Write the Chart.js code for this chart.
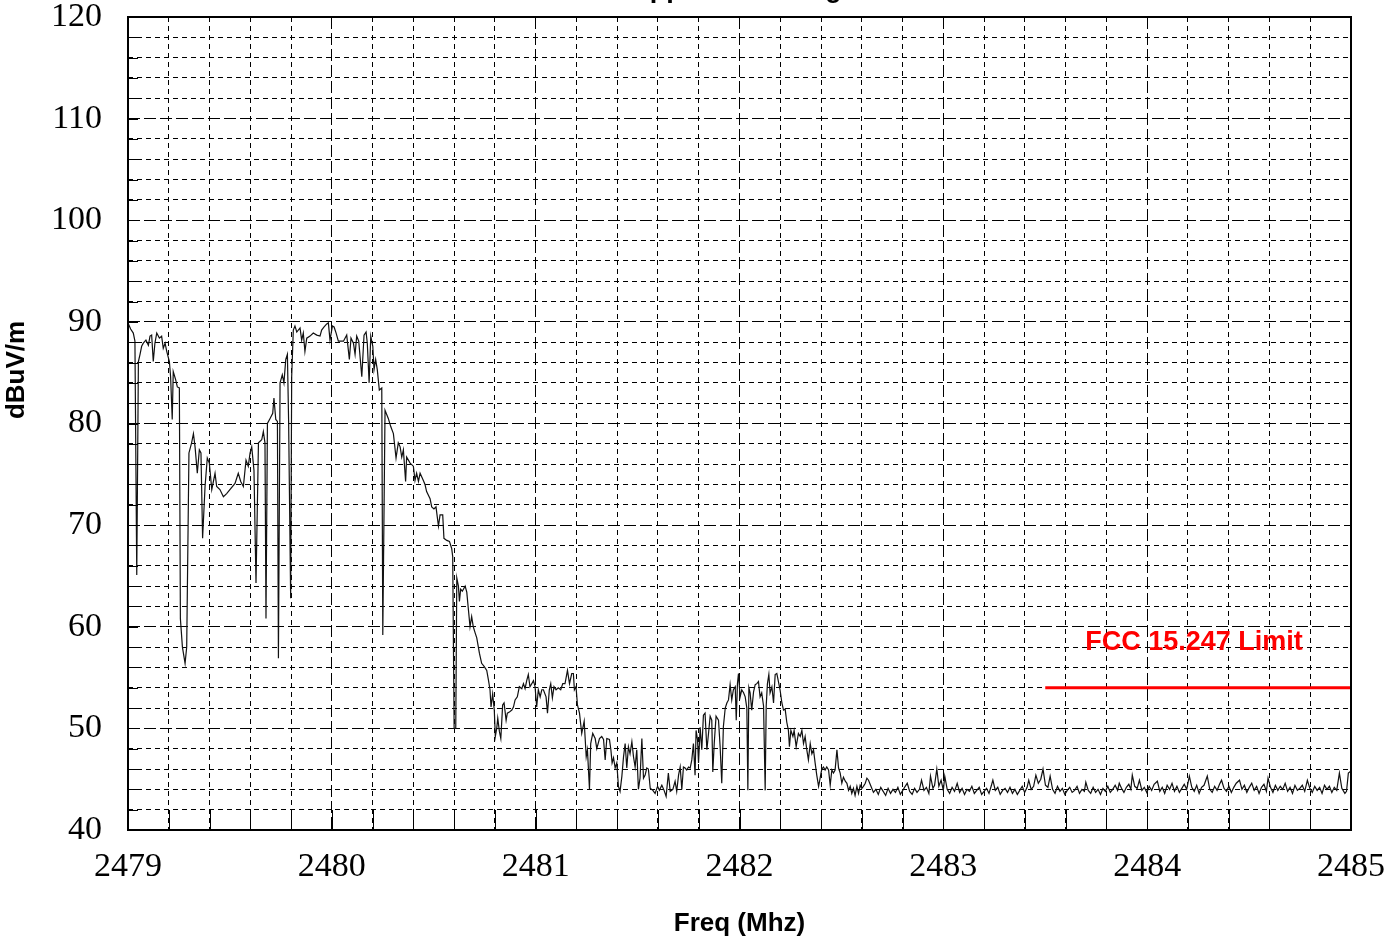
<!DOCTYPE html>
<html>
<head>
<meta charset="utf-8">
<script src="https://cdn.jsdelivr.net/npm/chart.js@4.4.1/dist/chart.umd.min.js"></script>
<style>
  html, body { margin: 0; padding: 0; background: #fff; }
  #wrap { width: 1388px; height: 946px; }
</style>
</head>
<body>
<div id="wrap"><canvas id="chart" width="1388" height="946"></canvas></div>
<script>
// labels
const chartTitle = 'Upper Band Edge';
const xAxisTitle = 'Freq (Mhz)';
const yAxisTitle = 'dBuV/m';
const limitLabel = 'FCC 15.247 Limit';

// axis ranges (MHz / dBuV/m)
const freqMin = 2479, freqMax = 2485, freqStep = 0.2;
const levelMin = 40, levelMax = 120, levelStep = 2;

const traceFreq = [
  2479.000, 2479.013, 2479.026, 2479.034, 2479.043, 2479.051, 2479.059, 2479.067, 2479.075, 2479.088,
  2479.100, 2479.108, 2479.116, 2479.124, 2479.132, 2479.141, 2479.154, 2479.165, 2479.173, 2479.182,
  2479.190, 2479.203, 2479.209, 2479.217, 2479.222, 2479.234, 2479.242, 2479.252, 2479.257, 2479.267,
  2479.280, 2479.288, 2479.299, 2479.312, 2479.321, 2479.329, 2479.340, 2479.350, 2479.358, 2479.366,
  2479.378, 2479.389, 2479.399, 2479.411, 2479.427, 2479.435, 2479.451, 2479.468, 2479.484, 2479.500,
  2479.525, 2479.541, 2479.553, 2479.566, 2479.579, 2479.590, 2479.599, 2479.607, 2479.618, 2479.628,
  2479.640, 2479.656, 2479.664, 2479.672, 2479.677, 2479.684, 2479.697, 2479.710, 2479.716, 2479.725,
  2479.733, 2479.738, 2479.746, 2479.757, 2479.765, 2479.774, 2479.782, 2479.788, 2479.798, 2479.803,
  2479.811, 2479.819, 2479.828, 2479.844, 2479.852, 2479.860, 2479.868, 2479.877, 2479.893, 2479.909,
  2479.926, 2479.942, 2479.950, 2479.962, 2479.975, 2479.983, 2479.991, 2480.003, 2480.011, 2480.021,
  2480.032, 2480.048, 2480.057, 2480.073, 2480.086, 2480.094, 2480.106, 2480.114, 2480.122, 2480.132,
  2480.147, 2480.158, 2480.168, 2480.174, 2480.183, 2480.191, 2480.201, 2480.207, 2480.215, 2480.223,
  2480.233, 2480.245, 2480.250, 2480.261, 2480.277, 2480.289, 2480.302, 2480.315, 2480.326, 2480.335,
  2480.343, 2480.351, 2480.362, 2480.367, 2480.384, 2480.400, 2480.408, 2480.416, 2480.425, 2480.433,
  2480.449, 2480.457, 2480.465, 2480.482, 2480.490, 2480.501, 2480.511, 2480.523, 2480.531, 2480.544,
  2480.550, 2480.564, 2480.577, 2480.588, 2480.593, 2480.600, 2480.608, 2480.613, 2480.621, 2480.626,
  2480.632, 2480.640, 2480.654, 2480.662, 2480.670, 2480.678, 2480.686, 2480.694, 2480.703, 2480.711,
  2480.724, 2480.735, 2480.747, 2480.760, 2480.768, 2480.776, 2480.781, 2480.789, 2480.797, 2480.802,
  2480.809, 2480.814, 2480.822, 2480.829, 2480.838, 2480.845, 2480.855, 2480.861, 2480.871, 2480.883,
  2480.891, 2480.899, 2480.910, 2480.920, 2480.932, 2480.940, 2480.948, 2480.956, 2480.964, 2480.972,
  2480.981, 2480.989, 2480.997, 2481.005, 2481.013, 2481.022, 2481.030, 2481.038, 2481.051, 2481.058,
  2481.067, 2481.074, 2481.082, 2481.090, 2481.100, 2481.111, 2481.123, 2481.133, 2481.144, 2481.156,
  2481.166, 2481.177, 2481.185, 2481.190, 2481.198, 2481.205, 2481.215, 2481.226, 2481.238, 2481.248,
  2481.254, 2481.264, 2481.270, 2481.280, 2481.292, 2481.300, 2481.313, 2481.324, 2481.333, 2481.341,
  2481.349, 2481.362, 2481.369, 2481.375, 2481.382, 2481.390, 2481.398, 2481.406, 2481.414, 2481.423,
  2481.431, 2481.439, 2481.447, 2481.455, 2481.463, 2481.472, 2481.480, 2481.488, 2481.496, 2481.504,
  2481.512, 2481.521, 2481.529, 2481.537, 2481.545, 2481.553, 2481.562, 2481.575, 2481.586, 2481.598,
  2481.607, 2481.619, 2481.630, 2481.640, 2481.651, 2481.660, 2481.673, 2481.684, 2481.692, 2481.701,
  2481.709, 2481.717, 2481.725, 2481.733, 2481.741, 2481.750, 2481.758, 2481.766, 2481.774, 2481.782,
  2481.787, 2481.794, 2481.799, 2481.807, 2481.815, 2481.823, 2481.831, 2481.840, 2481.848, 2481.856,
  2481.864, 2481.869, 2481.876, 2481.885, 2481.897, 2481.905, 2481.913, 2481.921, 2481.930, 2481.938,
  2481.946, 2481.954, 2481.962, 2481.970, 2481.979, 2481.984, 2481.990, 2481.995, 2482.003, 2482.011,
  2482.020, 2482.028, 2482.036, 2482.041, 2482.046, 2482.052, 2482.060, 2482.069, 2482.077, 2482.085,
  2482.093, 2482.101, 2482.109, 2482.118, 2482.126, 2482.131, 2482.137, 2482.144, 2482.150, 2482.159,
  2482.167, 2482.175, 2482.183, 2482.191, 2482.199, 2482.208, 2482.216, 2482.224, 2482.232, 2482.240,
  2482.245, 2482.252, 2482.262, 2482.268, 2482.278, 2482.289, 2482.298, 2482.306, 2482.314, 2482.322,
  2482.330, 2482.338, 2482.347, 2482.355, 2482.363, 2482.371, 2482.379, 2482.388, 2482.392, 2482.399,
  2482.404, 2482.412, 2482.420, 2482.428, 2482.437, 2482.445, 2482.453, 2482.461, 2482.469, 2482.478,
  2482.486, 2482.494, 2482.502, 2482.510, 2482.519, 2482.527, 2482.535, 2482.543, 2482.551, 2482.559,
  2482.567, 2482.576, 2482.584, 2482.592, 2482.600, 2482.608, 2482.617, 2482.625, 2482.633,
  2482.645, 2482.657, 2482.669, 2482.681, 2482.693, 2482.705, 2482.717, 2482.729, 2482.741, 2482.753,
  2482.765, 2482.777, 2482.789, 2482.801, 2482.813, 2482.823, 2482.835, 2482.847, 2482.859, 2482.871,
  2482.883, 2482.893, 2482.905, 2482.917, 2482.929, 2482.937, 2482.949, 2482.957, 2482.968, 2482.978,
  2482.989, 2483.000, 2483.007, 2483.019, 2483.031, 2483.043, 2483.055, 2483.068, 2483.080, 2483.092,
  2483.104, 2483.116, 2483.128, 2483.140, 2483.152, 2483.164, 2483.176, 2483.188, 2483.200, 2483.212,
  2483.224, 2483.236, 2483.243, 2483.255, 2483.267, 2483.279, 2483.291, 2483.303, 2483.315, 2483.327,
  2483.339, 2483.351, 2483.363, 2483.375, 2483.387, 2483.399, 2483.411, 2483.419, 2483.431, 2483.443,
  2483.454, 2483.466, 2483.478, 2483.489, 2483.501, 2483.513, 2483.524, 2483.536, 2483.548, 2483.560,
  2483.572, 2483.584, 2483.596, 2483.608, 2483.620, 2483.632, 2483.644, 2483.656, 2483.668, 2483.680,
  2483.692, 2483.699, 2483.711, 2483.723, 2483.735, 2483.747, 2483.759, 2483.771, 2483.783, 2483.795,
  2483.807, 2483.819, 2483.831, 2483.843, 2483.855, 2483.863, 2483.874, 2483.886, 2483.898, 2483.910,
  2483.920, 2483.927, 2483.939, 2483.951, 2483.962, 2483.974, 2483.986, 2483.998, 2484.010, 2484.022,
  2484.034, 2484.050, 2484.062, 2484.074, 2484.086, 2484.098, 2484.110, 2484.122, 2484.134, 2484.146,
  2484.158, 2484.170, 2484.182, 2484.194, 2484.207, 2484.219, 2484.231, 2484.243, 2484.255, 2484.267,
  2484.279, 2484.295, 2484.307, 2484.319, 2484.331, 2484.343, 2484.355, 2484.365, 2484.377, 2484.389,
  2484.401, 2484.413, 2484.425, 2484.437, 2484.453, 2484.465, 2484.477, 2484.489, 2484.501, 2484.513,
  2484.525, 2484.537, 2484.549, 2484.561, 2484.573, 2484.585, 2484.593, 2484.605, 2484.617, 2484.629,
  2484.641, 2484.653, 2484.665, 2484.677, 2484.689, 2484.701, 2484.713, 2484.725, 2484.737, 2484.749,
  2484.761, 2484.773, 2484.786, 2484.798, 2484.810, 2484.822, 2484.834, 2484.846, 2484.858, 2484.870,
  2484.882, 2484.894, 2484.906, 2484.918, 2484.930, 2484.943, 2484.955, 2484.970, 2484.978, 2484.987, 2485.000
];
const traceLevel = [
  89.9, 89.3, 88.9, 88.1, 65.1, 86.1, 86.8, 87.6, 87.9, 88.2,
  87.7, 88.6, 88.7, 86.1, 87.9, 88.9, 88.4, 88.6, 87.4, 87.9,
  87.1, 86.1, 84.6, 80.4, 85.1, 84.3, 83.6, 83.5, 60.8, 58.0,
  56.4, 58.0, 77.1, 78.1, 79.0, 77.7, 75.1, 77.4, 77.1, 68.7,
  73.8, 76.6, 76.1, 73.5, 75.1, 73.8, 73.5, 72.8, 73.1, 73.5,
  74.1, 75.1, 74.3, 73.8, 76.4, 75.8, 77.1, 77.7, 75.4, 64.3,
  78.1, 78.4, 79.2, 78.1, 60.8, 80.0, 80.5, 81.0, 82.5, 80.4,
  80.2, 56.9, 84.0, 84.8, 84.0, 86.3, 86.8, 80.2, 62.8, 84.6,
  89.2, 89.6, 89.0, 89.4, 88.2, 88.9, 87.1, 88.4, 88.6, 88.9,
  88.7, 88.6, 89.2, 89.5, 89.8, 89.9, 88.2, 89.6, 89.5, 88.9,
  88.1, 88.1, 88.1, 88.7, 86.3, 88.4, 87.9, 86.8, 88.6, 88.1,
  84.6, 88.7, 89.0, 87.9, 84.0, 88.6, 87.6, 85.3, 86.3, 85.3,
  83.3, 83.5, 59.2, 81.3, 80.5, 79.7, 79.0, 76.6, 78.1, 77.7,
  76.7, 77.4, 74.3, 76.7, 76.1, 75.8, 74.4, 75.1, 74.3, 75.1,
  74.4, 74.0, 73.3, 72.6, 71.8, 71.6, 71.8, 69.9, 71.0, 71.0,
  68.7, 68.5, 68.4, 67.7, 66.9, 50.0, 50.0, 64.8, 64.0, 62.5,
  63.7, 63.5, 64.0, 63.4, 61.7, 60.0, 61.0, 60.0, 59.4, 58.9,
  57.4, 56.4, 56.1, 55.7, 54.8, 53.8, 52.1, 53.4, 51.8, 49.2,
  50.0, 51.0, 49.7, 49.0, 52.3, 52.5, 50.8, 51.5, 51.6, 51.8,
  52.1, 52.8, 53.1, 54.1, 53.9, 54.4, 53.9, 54.7, 55.3, 54.1,
  54.4, 54.7, 54.1, 52.1, 53.8, 53.1, 53.8, 53.8, 53.1, 51.5,
  53.8, 54.4, 53.0, 54.1, 53.8, 54.0, 53.8, 54.4, 54.4, 55.7,
  54.4, 55.4, 55.4, 53.8, 54.1, 52.3, 51.5, 49.5, 50.7, 47.2,
  47.9, 44.0, 48.5, 49.5, 49.0, 48.0, 49.0, 49.2, 48.9, 46.9,
  49.0, 48.9, 47.9, 46.6, 47.1, 46.1, 46.6, 44.3, 43.8, 45.3,
  47.2, 48.5, 46.1, 48.2, 47.5, 48.7, 47.2, 46.2, 47.9, 44.0,
  45.1, 49.0, 45.1, 45.4, 46.1, 46.0, 44.1, 43.9, 43.6, 44.3,
  43.9, 44.4, 43.9, 43.3, 45.6, 43.8, 44.0, 44.8, 43.8, 45.4,
  46.2, 44.0, 46.2, 46.1, 45.9, 46.2, 46.1, 46.9, 48.5, 45.4,
  49.8, 48.9, 46.6, 50.1, 47.9, 51.3, 51.5, 47.9, 49.5, 51.2,
  50.8, 45.7, 48.5, 51.2, 50.8, 48.2, 44.6, 50.2, 52.0, 52.5,
  52.8, 54.3, 52.8, 53.8, 54.1, 50.8, 54.4, 55.4, 53.1, 53.8,
  53.5, 53.1, 52.0, 43.9, 54.0, 53.5, 51.8, 53.6, 54.3, 54.4,
  54.6, 53.1, 53.5, 52.2, 43.9, 52.2, 54.4, 55.3, 53.5, 54.1,
  52.5, 55.3, 55.4, 54.6, 53.8, 52.5, 51.8, 51.9, 50.6, 49.8,
  48.2, 49.8, 49.2, 49.8, 48.2, 49.5, 49.2, 49.8, 48.5, 49.2,
  47.9, 46.9, 48.5, 47.5, 47.9, 46.6, 45.4, 44.3, 44.7, 45.5,
  46.0, 46.2, 45.9, 46.2, 45.9, 44.4, 45.9, 45.6, 45.9, 47.9,
  46.1, 45.6, 44.6, 45.2, 44.8, 44.6, 43.9, 44.3, 43.6, 44.1,
  43.4, 44.3, 43.6, 44.4, 44.1, 44.3, 44.6, 45.1, 44.9,
  44.3, 43.7, 44.0, 43.5, 44.2, 43.8, 43.4, 44.1, 43.6, 44.0,
  43.7, 44.2, 43.5, 43.9, 44.3, 44.6, 43.8, 43.5, 44.1, 43.7,
  44.0, 44.9, 43.9, 44.2, 43.6, 45.3, 44.1, 44.4, 46.0, 44.3,
  44.9, 43.9, 45.3, 44.0, 43.6, 44.2, 43.8, 44.6, 43.7, 44.1,
  43.5, 44.0, 43.8, 44.3, 43.6, 43.9, 44.2, 43.5, 43.8, 44.1,
  43.6, 44.4, 44.9, 43.9, 44.2, 43.5, 43.9, 44.1, 43.7, 44.2,
  43.6, 44.0, 43.5, 43.9, 44.3, 43.7, 44.2, 44.9, 44.0, 44.3,
  45.4, 44.6, 45.0, 46.0, 44.4, 44.2, 45.3, 44.0, 43.6, 44.3,
  43.8, 44.1, 43.5, 43.9, 44.2, 43.7, 43.9, 44.3, 43.6, 44.0,
  43.8, 44.7, 43.9, 43.6, 44.2, 43.7, 44.0, 43.5, 44.1, 43.8,
  44.3, 43.7, 44.0, 44.4, 43.9, 44.6, 44.1, 43.7, 44.2, 44.5,
  44.0, 45.4, 44.3, 44.1, 44.9, 43.9, 44.2, 43.7, 44.3, 43.9,
  44.5, 44.8, 43.8, 44.2, 43.6, 44.4, 44.0, 44.6, 43.8, 44.3,
  43.7, 44.1, 44.5, 44.0, 45.3, 44.2, 43.8, 44.4, 43.6, 44.2,
  44.4, 45.3, 44.0, 43.7, 44.3, 43.9, 44.5, 44.9, 44.1, 43.8,
  44.3, 43.7, 44.2, 44.6, 44.9, 44.0, 44.4, 43.7, 44.2, 44.6,
  43.9, 44.3, 43.6, 44.2, 44.5, 43.8, 45.1, 44.2, 43.7, 44.4,
  43.9, 44.3, 44.0, 44.6, 43.8, 44.2, 43.6, 44.4, 43.9, 44.1,
  44.4, 43.8, 44.9, 44.1, 43.7, 44.3, 43.9, 44.2, 43.6, 44.4,
  44.0, 44.3, 43.7, 44.2, 43.9, 45.6, 44.1, 43.6, 43.8, 45.6, 45.8
];

// FCC 15.247 limit line
const limitFreq = [2483.5, 2485];
const limitLevel = [54, 54];

const isMajorFreq = v => Math.abs(v - Math.round(v)) < 1e-6;
const isMajorLevel = v => Math.abs(v / 10 - Math.round(v / 10)) < 1e-6;

const serif = '"Liberation Serif", "Times New Roman", serif';
const sans = '"Liberation Sans", Arial, Helvetica, sans-serif';

// frame, inward ticks and all free text
const framePlugin = {
  id: 'frame',
  afterDraw(chart, args, opts) {
    const { ctx, chartArea: a, scales: { x, y } } = chart;
    ctx.save();
    ctx.setLineDash([]);
    ctx.strokeStyle = '#000';
    ctx.lineWidth = 1;
    ctx.beginPath();
    y.ticks.forEach(t => {
      const py = Math.round(y.getPixelForValue(t.value)) + 0.5;
      ctx.moveTo(a.left, py);
      ctx.lineTo(a.left + 10, py);
    });
    x.ticks.forEach(t => {
      const px = Math.round(x.getPixelForValue(t.value)) + 0.5;
      ctx.moveTo(px, a.bottom);
      ctx.lineTo(px, a.bottom - 20);
    });
    ctx.stroke();
    ctx.lineWidth = 2;
    ctx.strokeRect(a.left, a.top, a.right - a.left, a.bottom - a.top);

    ctx.fillStyle = '#000';
    ctx.textAlign = 'center';
    ctx.font = 'bold 27px ' + sans;
    ctx.textBaseline = 'alphabetic';
    ctx.fillText(chartTitle, (a.left + a.right) / 2 + 4, -3);

    ctx.font = 'bold 26px ' + sans;
    ctx.textBaseline = 'middle';
    ctx.fillText(xAxisTitle, (a.left + a.right) / 2, 924);

    ctx.save();
    ctx.translate(17, 370);
    ctx.rotate(-Math.PI / 2);
    ctx.fillText(yAxisTitle, 0, 0);
    ctx.restore();

    ctx.fillStyle = '#ff0000';
    ctx.font = 'bold 27px ' + sans;
    ctx.fillText(limitLabel, x.getPixelForValue(opts.labelAt[0]), y.getPixelForValue(opts.labelAt[1]));
    ctx.restore();
  }
};

new Chart(document.getElementById('chart'), {
  type: 'line',
  data: {
    datasets: [
      {
        label: 'Trace',
        data: traceFreq.map((f, i) => ({ x: f, y: traceLevel[i] })),
        borderColor: '#111',
        borderWidth: 1.2,
        pointRadius: 0,
        tension: 0
      },
      {
        label: limitLabel,
        data: limitFreq.map((f, i) => ({ x: f, y: limitLevel[i] })),
        borderColor: '#ff0000',
        borderWidth: 3,
        pointRadius: 0
      }
    ]
  },
  options: {
    responsive: false,
    animation: false,
    devicePixelRatio: 1,
    layout: { padding: { top: 17, right: 37, left: 0, bottom: 0 } },
    plugins: {
      legend: { display: false },
      tooltip: { enabled: false },
      frame: { labelAt: [2484.23, 58.4] }
    },
    scales: {
      x: {
        type: 'linear',
        min: freqMin,
        max: freqMax,
        ticks: {
          stepSize: freqStep,
          autoSkip: false,
          maxRotation: 0,
          padding: 17,
          color: '#000',
          font: { family: serif, size: 34, lineHeight: 1.2 },
          callback: v => isMajorFreq(v) ? String(Math.round(v)) : ''
        },
        grid: { color: '#000', lineWidth: 1, drawTicks: false },
        border: { display: false, dash: c => (c.tick && isMajorFreq(c.tick.value)) ? [12, 4] : [5, 4] },
        afterFit: s => { s.height = 116; s.paddingLeft = 0; s.paddingRight = 0; }
      },
      y: {
        min: levelMin,
        max: levelMax,
        ticks: {
          stepSize: levelStep,
          autoSkip: false,
          padding: 26,
          color: '#000',
          font: { family: serif, size: 34, lineHeight: 1.2 },
          callback: v => isMajorLevel(v) ? String(v) : ''
        },
        grid: { color: '#000', lineWidth: 1, drawTicks: false },
        border: { display: false, dash: c => (c.tick && isMajorLevel(c.tick.value)) ? [12, 4] : [5, 4] },
        afterFit: s => { s.width = 128; s.paddingTop = 0; s.paddingBottom = 0; }
      }
    }
  },
  plugins: [framePlugin]
});
</script>
</body>
</html>
